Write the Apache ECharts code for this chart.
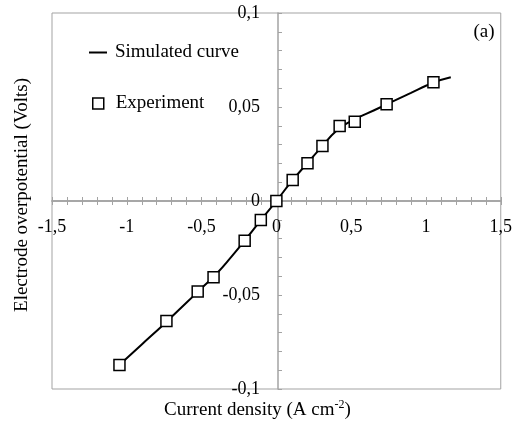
<!DOCTYPE html>
<html>
<head>
<meta charset="utf-8">
<script src="https://cdn.jsdelivr.net/npm/echarts@6/dist/echarts.min.js"></script>
<style>
  html, body {margin: 0; padding: 0; background: #fff;}
  #chart {width: 515px; height: 424px;}
</style>
</head>
<body>
<div id="chart"></div>
<script>
const expX = [-1.049, -0.735, -0.526, -0.42, -0.212, -0.104, 0, 0.109, 0.208, 0.308, 0.423, 0.524, 0.737, 1.05]
const expY = [-0.0873, -0.0638, -0.0482, -0.0405, -0.0211, -0.0101, 0, 0.0112, 0.0201, 0.0292, 0.0399, 0.0422, 0.0514, 0.0632]

// simulated curve
const simX = [-1.05, -0.9, -0.75, -0.6, -0.5, -0.4, -0.3, -0.2, -0.1, 0, 0.1, 0.2, 0.3, 0.4, 0.5, 0.6, 0.7, 0.8, 0.9, 1.0, 1.05, 1.166]
const simY = [-0.0872, -0.0763, -0.0654, -0.054, -0.0464, -0.0387, -0.0296, -0.0199, -0.0098, 0, 0.0103, 0.0195, 0.0285, 0.0372, 0.0425, 0.0463, 0.05, 0.0538, 0.0575, 0.0613, 0.0631, 0.0658]

const xTicks = [-1.5, 1.5, 0.1]
const yTicks = [-0.1, 0.1, 0.01]

const font = 'Liberation Serif'
const axisGray = '#a3a3a3'

// plot box: 452 x 376, axes cross in the middle
const gridW = 452, gridH = 376

function zip(xs, ys) {
    return xs.map((x, i) => [x, ys[i]])
}

function fmt(step) {
    return v => {
        const k = v / step
        if (Math.abs(k - Math.round(k)) > 1e-6) return ''
        return String(+v.toFixed(2)).replace('.', ',')
    }
}

const chart = echarts.init(document.getElementById('chart'))
chart.setOption({
    animation: false,
    grid: {left: 52, right: 11, top: 13, bottom: 35, show: true, borderColor: axisGray, borderWidth: 1},
    legend: [
        {
            data: ['Simulated curve'], left: 89, top: 43, padding: 0,
            icon: 'rect', itemWidth: 18, itemHeight: 2,
            textStyle: {fontFamily: font, fontSize: 19, color: '#000', padding: [0, 0, 0, 3]}
        },
        {
            data: ['Experiment'], left: 92, top: 94, padding: 0,
            icon: 'rect', itemWidth: 11, itemHeight: 11,
            itemStyle: {color: '#fff', borderColor: '#000', borderWidth: 1.5},
            textStyle: {fontFamily: font, fontSize: 19, color: '#000', padding: [0, 0, 0, 7]}
        }
    ],
    xAxis: [
        {
            type: 'value', min: xTicks[0], max: xTicks[1], interval: xTicks[2],
            position: 'bottom', offset: -gridH / 2,
            axisLine: {onZero: false, lineStyle: {color: axisGray, width: 1.5}},
            axisTick: {show: true, inside: false, length: 4, lineStyle: {color: axisGray}},
            axisLabel: {formatter: fmt(0.5), margin: 17, fontFamily: font, fontSize: 18, color: '#000',
                showMinLabel: true, showMaxLabel: true},
            splitLine: {show: false}
        },
        {
            type: 'value', min: xTicks[0], max: xTicks[1], interval: xTicks[2],
            position: 'top', offset: -gridH / 2,
            axisLine: {onZero: false, lineStyle: {color: axisGray, width: 1.5}},
            axisTick: {show: true, inside: false, length: 4, lineStyle: {color: axisGray}},
            axisLabel: {show: false},
            splitLine: {show: false}
        }
    ],
    yAxis: [
        {
            type: 'value', min: yTicks[0], max: yTicks[1], interval: yTicks[2],
            position: 'left', offset: -gridW / 2,
            axisLine: {onZero: false, lineStyle: {color: axisGray, width: 1.5}},
            axisTick: {show: true, inside: true, length: 4, lineStyle: {color: axisGray}},
            axisLabel: {formatter: fmt(0.05), margin: 18, fontFamily: font, fontSize: 18, color: '#000',
                showMinLabel: true, showMaxLabel: true},
            splitLine: {show: false}
        }
    ],
    graphic: [
        {
            type: 'text', left: 'center', top: 399,
            style: {
                text: '{n|Current density (A cm}{s|-2}{n|)}',
                rich: {
                    n: {fontFamily: font, fontSize: 19, lineHeight: 22, fill: '#000'},
                    s: {fontFamily: font, fontSize: 12, lineHeight: 22, verticalAlign: 'top', fill: '#000'}
                }
            }
        },
        {
            type: 'text', x: 22, y: 195, rotation: Math.PI / 2,
            style: {
                text: 'Electrode overpotential (Volts)', fontFamily: font, fontSize: 19, fill: '#000',
                align: 'center', verticalAlign: 'middle'
            }
        },
        {
            type: 'text', x: 484, y: 32,
            style: {text: '(a)', fontFamily: font, fontSize: 19, fill: '#000', align: 'center', verticalAlign: 'middle'}
        }
    ],
    series: [
        {
            name: 'Simulated curve', type: 'line', data: zip(simX, simY),
            smooth: 0.5, symbol: 'none', lineStyle: {color: '#000', width: 2}, itemStyle: {color: '#000'}, z: 2
        },
        {
            name: 'Experiment', type: 'scatter', data: zip(expX, expY),
            symbol: 'rect', symbolSize: 11,
            itemStyle: {color: '#fff', borderColor: '#000', borderWidth: 1.5, opacity: 1}, z: 3
        }
    ]
})
</script>
</body>
</html>
